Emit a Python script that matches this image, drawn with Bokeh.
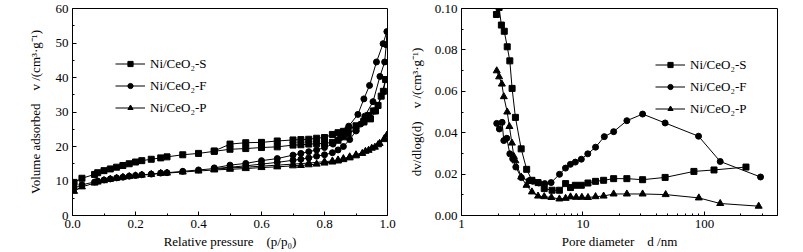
from bokeh.plotting import figure
from bokeh.layouts import row
from bokeh.models import FixedTicker, PrintfTickFormatter, Range1d
from bokeh.embed import file_html
from bokeh.resources import INLINE

# ---------------- Left: N2 isotherms ----------------
s_p = [0.005, 0.03, 0.07, 0.08, 0.10, 0.12, 0.14, 0.16, 0.18, 0.20, 0.22, 0.25, 0.28, 0.30, 0.35, 0.40,
       0.45, 0.50, 0.55, 0.60, 0.65, 0.70, 0.725, 0.75, 0.775, 0.80, 0.825, 0.843, 0.86, 0.875, 0.90, 0.925,
       0.946, 0.962, 0.98, 0.994,
       0.987, 0.97, 0.955, 0.94, 0.925, 0.90, 0.875, 0.86, 0.843, 0.825, 0.80, 0.775, 0.75, 0.725, 0.70,
       0.65, 0.60, 0.55, 0.50, 0.45]
s_v = [9.6, 10.8, 11.9, 12.4, 13.0, 13.5, 14.0, 14.5, 15.0, 15.5, 15.9, 16.3, 16.7, 17.0, 17.6, 18.0,
       18.6, 19.2, 19.4, 19.7, 19.9, 20.4, 20.5, 20.7, 20.8, 20.9, 21.2, 21.8, 22.8, 23.8, 25.0, 27.1,
       28.0, 30.3, 34.6, 39.4,
       36.0, 31.9, 30.3, 29.0, 27.4, 26.0, 24.8, 24.4, 24.0, 23.5, 22.6, 22.4, 22.1, 22.0, 21.9,
       21.6, 21.2, 21.1, 20.7, 18.7]

f_p = [0.005, 0.03, 0.07, 0.08, 0.10, 0.12, 0.14, 0.16, 0.18, 0.20, 0.22, 0.25, 0.28, 0.30, 0.35, 0.40,
       0.45, 0.50, 0.55, 0.60, 0.65, 0.70, 0.725, 0.75, 0.775, 0.80, 0.825, 0.843, 0.86, 0.88, 0.90, 0.915,
       0.928, 0.954, 0.976, 0.991, 0.996, 0.998,
       0.986, 0.965, 0.943, 0.925, 0.906, 0.877, 0.851, 0.827, 0.80, 0.775, 0.75, 0.725, 0.70,
       0.65, 0.60, 0.55, 0.50, 0.45]
f_v = [7.9, 8.9, 9.7, 10.0, 10.3, 10.6, 10.9, 11.1, 11.4, 11.6, 11.8, 12.0, 12.3, 12.4, 12.8, 13.2,
       13.6, 14.0, 14.4, 14.9, 15.4, 16.0, 16.3, 16.7, 17.2, 17.6, 18.2, 19.0, 20.0, 22.0, 24.5, 26.5,
       28.8, 33.0, 40.3, 44.5, 49.5, 53.3,
       49.8, 44.5, 37.7, 33.8, 29.3, 25.9, 22.6, 20.7, 19.7, 19.0, 18.5, 18.0, 17.5,
       16.5, 15.9, 15.1, 14.6, 13.8]

pp_p = [0.005, 0.03, 0.07, 0.08, 0.10, 0.12, 0.14, 0.16, 0.18, 0.20, 0.22, 0.25, 0.28, 0.30, 0.35, 0.40,
        0.45, 0.50, 0.55, 0.60, 0.65, 0.70, 0.725, 0.75, 0.775, 0.80, 0.825, 0.843, 0.86, 0.88, 0.90, 0.92,
        0.94, 0.96, 0.975, 0.99, 0.998,
        0.99, 0.97, 0.95, 0.93, 0.90, 0.88, 0.86, 0.843, 0.825, 0.80, 0.75, 0.70,
        0.65, 0.60, 0.55, 0.50, 0.45]
pp_v = [7.0, 8.3, 9.4, 9.7, 10.1, 10.5, 10.8, 11.1, 11.3, 11.5, 11.7, 11.9, 12.2, 12.3, 12.6, 12.9,
        13.2, 13.4, 13.6, 13.9, 14.1, 14.4, 14.5, 14.7, 14.9, 15.2, 15.5, 15.8, 16.2, 16.7, 17.3, 18.0,
        18.9, 19.8, 20.9, 22.3, 23.3,
        22.0, 20.5, 19.5, 18.6, 17.6, 17.0, 16.5, 16.1, 15.8, 15.6, 15.2, 14.9,
        14.6, 14.3, 14.0, 13.8, 13.4]

# ---------------- Right: pore size distribution ----------------
s_d = [1.94, 2.04, 2.13, 2.25, 2.38, 2.5, 2.61, 2.78, 3.1, 3.44, 3.8, 4.27, 4.8, 5.57, 6.4, 7.2, 7.9,
       8.66, 9.7, 11, 12.7, 14.8, 17.9, 23, 31, 47.5, 82, 120, 220]
s_dv = [0.0971, 0.1005, 0.092, 0.089, 0.0815, 0.0747, 0.0614, 0.0474, 0.0322, 0.0223, 0.017, 0.0159,
        0.013, 0.0122, 0.0122, 0.0154, 0.0135, 0.0146, 0.0146, 0.0157, 0.0165, 0.017, 0.0178, 0.0178,
        0.0173, 0.0184, 0.0213, 0.022, 0.0234]

f_d = [1.95, 2.05, 2.16, 2.23, 2.36, 2.5, 2.64, 2.8, 3.11, 3.6, 3.86, 4.33, 4.85, 5.47, 6.41, 7.18,
       7.88, 8.66, 9.7, 10.96, 12.7, 15, 17.9, 23, 31, 47.5, 89.5, 135, 290]
f_dv = [0.0445, 0.0418, 0.045, 0.0362, 0.0373, 0.0298, 0.0274, 0.0234, 0.0183, 0.0168, 0.0165, 0.0157,
        0.0154, 0.0159, 0.0199, 0.0229, 0.0247, 0.0258, 0.0272, 0.0298, 0.033, 0.0381, 0.0405, 0.0458,
        0.049, 0.0447, 0.0383, 0.0261, 0.0186]

p_d = [1.95, 2.04, 2.15, 2.23, 2.38, 2.48, 2.6, 2.7, 2.78, 3.1, 3.43, 3.8, 4.27, 4.8, 5.5, 6.4, 7.2,
       7.9, 8.8, 9.8, 11, 12.7, 14.8, 17.9, 23, 31, 48, 90, 135, 280]
p_dv = [0.0699, 0.067, 0.0635, 0.0574, 0.050, 0.043, 0.035, 0.0285, 0.0264, 0.0186, 0.0146, 0.0114,
        0.0094, 0.0091, 0.0087, 0.0080, 0.0083, 0.009, 0.0088, 0.0088, 0.0087, 0.0091, 0.0094, 0.0104,
        0.0104, 0.0104, 0.0101, 0.0085, 0.0058, 0.0045]

labels = ["Ni/CeO\u2082-S", "Ni/CeO\u2082-F", "Ni/CeO\u2082-P"]
markers = ["square", "circle", "triangle"]
msizes = [6, 6, 7]

FONT = "Liberation Serif"
NB = "\u00a0"


def style(p, ylab_standoff):
    p.grid.visible = False
    p.outline_line_color = "black"
    p.outline_line_alpha = 1
    p.outline_line_width = 1
    p.background_fill_color = "white"
    p.border_fill_color = "white"
    for ax in (p.xaxis[0], p.yaxis[0]):
        ax.axis_line_color = "black"
        ax.major_tick_line_color = "black"
        ax.minor_tick_line_color = "black"
        ax.major_tick_in = 4
        ax.major_tick_out = 0
        ax.minor_tick_in = 2
        ax.minor_tick_out = 0
        ax.major_label_text_font = FONT
        ax.major_label_text_font_size = "13px"
        ax.major_label_text_color = "black"
        ax.axis_label_text_font = FONT
        ax.axis_label_text_font_size = "13px"
        ax.axis_label_text_font_style = "normal"
        ax.axis_label_text_color = "black"
        ax.major_label_standoff = 4
    p.xaxis[0].axis_label_standoff = 3
    p.yaxis[0].axis_label_standoff = ylab_standoff


def style_legend(p, loc):
    lg = p.legend[0]
    lg.location = loc
    lg.border_line_color = None
    lg.background_fill_alpha = 0
    lg.label_text_font = FONT
    lg.label_text_font_size = "13px"
    lg.label_text_color = "black"
    lg.glyph_width = 30
    lg.glyph_height = 13
    lg.label_height = 21
    lg.spacing = 1
    lg.padding = 0
    lg.margin = 0
    lg.label_standoff = 5


# Left figure
p1 = figure(width=400, height=252, output_backend="svg", toolbar_location=None,
            x_range=Range1d(0, 1), y_range=Range1d(0, 60),
            min_border_left=72, min_border_right=13, min_border_top=8, min_border_bottom=35)
for xs, ys, lab, mk, ms in zip([s_p, f_p, pp_p], [s_v, f_v, pp_v], labels, markers, msizes):
    p1.line(xs, ys, line_color="black", line_width=1, legend_label=lab)
    p1.scatter(xs, ys, marker=mk, size=ms, fill_color="black", line_color="black", legend_label=lab)
p1.xaxis.ticker = FixedTicker(ticks=[0, 0.2, 0.4, 0.6, 0.8, 1.0], minor_ticks=[0.1, 0.3, 0.5, 0.7, 0.9])
p1.yaxis.ticker = FixedTicker(ticks=[0, 10, 20, 30, 40, 50, 60], minor_ticks=[5, 15, 25, 35, 45, 55])
p1.xaxis.formatter = PrintfTickFormatter(format="%.1f")
p1.yaxis.formatter = PrintfTickFormatter(format="%d")
p1.xaxis.axis_label = "Relative pressure" + NB * 4 + "(p/p\u2080)"
p1.yaxis.axis_label = "Volume adsorbed" + NB * 4 + "v /(cm\u00b3\u00b7g\u207b\u00b9)"
style(p1, 10)
style_legend(p1, (43, 97))

# Right figure
p2 = figure(width=403, height=252, output_backend="svg", toolbar_location=None,
            x_axis_type="log", x_range=Range1d(1, 400), y_range=Range1d(0, 0.10),
            min_border_left=61, min_border_right=26, min_border_top=8, min_border_bottom=37)
for xs, ys, lab, mk, ms in zip([s_d, f_d, p_d], [s_dv, f_dv, p_dv], labels, markers, msizes):
    p2.line(xs, ys, line_color="black", line_width=1, legend_label=lab)
    p2.scatter(xs, ys, marker=mk, size=ms, fill_color="black", line_color="black", legend_label=lab)
minor_log = [2, 3, 4, 5, 6, 7, 8, 9, 20, 30, 40, 50, 60, 70, 80, 90, 200, 300, 400]
p2.xaxis.ticker = FixedTicker(ticks=[1, 10, 100], minor_ticks=minor_log)
p2.yaxis.ticker = FixedTicker(ticks=[0, 0.02, 0.04, 0.06, 0.08, 0.10],
                              minor_ticks=[0.01, 0.03, 0.05, 0.07, 0.09])
p2.xaxis.formatter = PrintfTickFormatter(format="%d")
p2.yaxis.formatter = PrintfTickFormatter(format="%.2f")
p2.xaxis.axis_label = "Pore diameter" + NB * 4 + "d /nm"
p2.yaxis.axis_label = "dv/dlog(d)" + NB * 4 + "v /(cm\u00b3\u00b7g\u207b\u00b9)"
style(p2, 8)
style_legend(p2, (194, 96))

layout = row(p1, p2)
open("out.html", "w").write(file_html(layout, INLINE))
